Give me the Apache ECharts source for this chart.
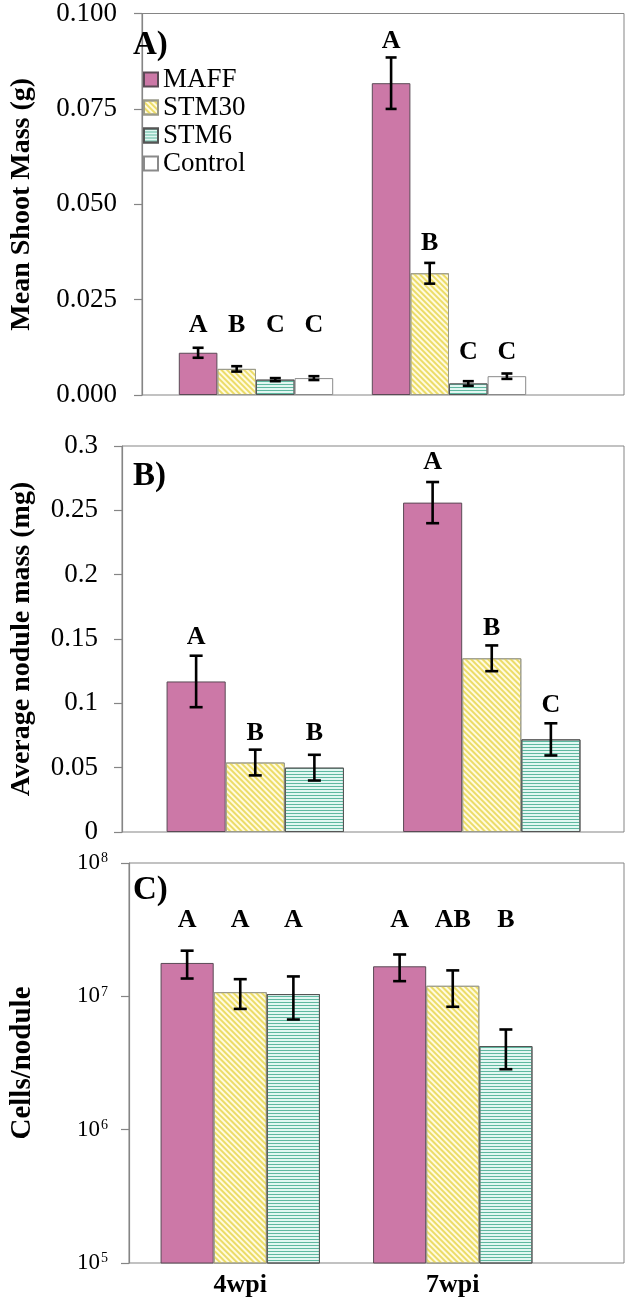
<!DOCTYPE html>
<html lang="en">
<head>
    <meta charset="UTF-8">
    <title>Shoot mass, nodule mass and cells per nodule</title>
    <script src="https://cdn.jsdelivr.net/npm/echarts@6/dist/echarts.min.js"></script>
    <style>
        body { margin: 0; background: #fff; }
    </style>
</head>
<body>
<div id="main" style="width: 626px;height:1299px"></div>
<script>
    var categories = ['4wpi', '7wpi'];
    var seriesNames = ['MAFF', 'STM30', 'STM6', 'Control'];

    // A) mean shoot mass (g), one row per strain, [4wpi, 7wpi]
    var shootMean = [[0.0110, 0.0812], [0.0068, 0.0317], [0.0040, 0.0030], [0.0044, 0.0049]];
    var shootErr = [[0.0013, 0.0067], [0.0007, 0.0027], [0.0004, 0.0006], [0.0005, 0.0007]];
    var shootLetters = [['A', 'A'], ['B', 'B'], ['C', 'C'], ['C', 'C']];
    var shootLetterY = [[0.0182, 0.0920], [0.0182, 0.0396], [0.0182, 0.0112], [0.0182, 0.0112]];

    // B) average nodule mass (mg)
    var noduleMean = [[0.117, 0.256], [0.054, 0.135], [0.050, 0.072]];
    var noduleErr = [[0.020, 0.016], [0.010, 0.010], [0.010, 0.0125]];
    var noduleLetters = [['A', 'A'], ['B', 'B'], ['B', 'C']];
    var noduleLetterY = [[0.151, 0.287], [0.077, 0.158], [0.077, 0.0985]];

    // C) cells per nodule (log scale)
    var cellsMean = [[1.78e7, 1.68e7], [1.075e7, 1.20e7], [1.04e7, 4.24e6]];
    var cellsErr = [[4.2e6, 3.8e6], [2.7e6, 3.65e6], [3.7e6, 1.4e6]];
    var cellsLetters = [['A', 'A'], ['A', 'AB'], ['A', 'B']];
    var cellsLetterY = [[3.7e7, 3.7e7], [3.7e7, 3.7e7], [3.7e7, 3.7e7]];

    var FONT = 'Liberation Serif';
    var fills = ['#cc78a7', '#fffbe0', '#e2f7f2', '#ffffff'];
    var borders = ['#5a4a55', '#9a9a8a', '#555555', '#8a8a8a'];
    var decals = [
        null,
        {symbol: 'rect', dashArrayX: [1, 0], dashArrayY: [1.6, 1.4], rotation: Math.PI / 4, color: '#ecdc68'},
        {symbol: 'rect', dashArrayX: [1, 0], dashArrayY: [1, 1.7], rotation: 0, color: '#5fb8a0'},
        null
    ];

    var chart = echarts.init(document.getElementById('main'));

    var grids = [], xAxes = [], yAxes = [], series = [];

    function frameAxis(yAxis) {
        // grid with the visible frame and y axis
        var gi = grids.length;
        grids.push({left: yAxis.left, right: 2, top: yAxis.top, bottom: yAxis.bottom,
            show: true, borderColor: '#858585', borderWidth: 1});
        xAxes.push({gridIndex: gi, type: 'value', min: 0, max: 1, show: false});
        yAxes.push({
            gridIndex: gi, type: yAxis.type, min: yAxis.min, max: yAxis.max, interval: yAxis.interval,
            logBase: 10,
            name: yAxis.name, nameLocation: 'middle', nameGap: yAxis.nameGap,
            nameTextStyle: {fontFamily: FONT, fontWeight: 'bold', fontSize: yAxis.nameSize, color: '#000'},
            axisLine: {show: true, lineStyle: {color: '#858585', width: 1.2}},
            axisTick: {show: true, inside: false, length: 8, lineStyle: {color: '#858585', width: 1.2}},
            axisLabel: {fontFamily: FONT, fontSize: 27, color: '#000', margin: yAxis.labelMargin,
                formatter: yAxis.formatter, rich: yAxis.rich},
            splitLine: {show: false}
        });
    }

    function barPanel(p) {
        var gi = grids.length;
        grids.push({left: p.left, width: p.width, top: p.top, bottom: p.bottom});
        xAxes.push({gridIndex: gi, type: 'category', data: categories,
            show: p.showCats,
            axisLine: {show: false}, axisTick: {show: false},
            axisLabel: {fontFamily: FONT, fontWeight: 'bold', fontSize: 26, color: '#000', margin: 9}});
        yAxes.push({gridIndex: gi, type: p.type, min: p.min, max: p.max, logBase: 10, show: false});
        var ax = xAxes.length - 1;
        var n = p.mean.length;
        var errData = [], letterData = [], letterText = [];
        for (var i = 0; i < n; i++) {
            series.push({
                name: seriesNames[i], type: 'bar', xAxisIndex: ax, yAxisIndex: ax,
                barGap: '0%', barCategoryGap: p.gap * 100 + '%', clip: true,
                itemStyle: {color: fills[i], borderColor: borders[i], borderWidth: 1, decal: decals[i]},
                data: p.mean[i]
            });
            for (var j = 0; j < categories.length; j++) {
                errData.push([j, i, p.mean[i][j] - p.err[i][j], p.mean[i][j] + p.err[i][j]]);
                letterData.push([j, i, p.letterY[i][j]]);
                letterText.push(p.letters[i][j]);
            }
        }
        function offsetX(api, j, i, v) {
            var a = api.coord([0, v])[0], b = api.coord([1, v])[0];
            var w = (b - a) * (1 - p.gap) / n;
            return api.coord([j, v])[0] + (i - (n - 1) / 2) * w;
        }
        series.push({
            type: 'custom', xAxisIndex: ax, yAxisIndex: ax, z: 5,
            encode: {x: 0, y: [2, 3]},
            renderItem: function (params, api) {
                var j = api.value(0), i = api.value(1);
                var lo = api.value(2), hi = api.value(3);
                var x = offsetX(api, j, i, hi);
                var y1 = api.coord([j, lo])[1], y2 = api.coord([j, hi])[1];
                var st = {stroke: '#000', lineWidth: 2.6};
                var c = p.cap;
                return {type: 'group', children: [
                    {type: 'line', shape: {x1: x, y1: y1, x2: x, y2: y2}, style: st},
                    {type: 'line', shape: {x1: x - c, y1: y1, x2: x + c, y2: y1}, style: st},
                    {type: 'line', shape: {x1: x - c, y1: y2, x2: x + c, y2: y2}, style: st}
                ]};
            },
            data: errData
        });
        series.push({
            type: 'custom', xAxisIndex: ax, yAxisIndex: ax, z: 6,
            encode: {x: 0, y: 2},
            renderItem: function (params, api) {
                var j = api.value(0), i = api.value(1), v = api.value(2);
                var x = offsetX(api, j, i, v);
                var y = api.coord([j, v])[1];
                return {type: 'text', x: x, y: y, style: {
                    text: letterText[params.dataIndex], fill: '#000',
                    font: 'bold 26px "' + FONT + '"', textAlign: 'center', textVerticalAlign: 'middle'}};
            },
            data: letterData
        });
    }

    // Panel A
    frameAxis({left: 121, top: 11, bottom: 904, type: 'value', min: 0, max: 0.1, interval: 0.025,
        name: 'Mean Shoot Mass (g)', nameGap: 106, nameSize: 28, labelMargin: 25,
        formatter: function (v) { return v.toFixed(3); }});
    barPanel({left: 159.5, width: 386, top: 11, bottom: 904, type: 'value', min: 0, max: 0.1,
        mean: shootMean, err: shootErr, letters: shootLetters, letterY: shootLetterY,
        gap: 0.2, cap: 5.5, showCats: false});

    // Panel B
    frameAxis({left: 122, top: 446, bottom: 467, type: 'value', min: 0, max: 0.3, interval: 0.05,
        name: 'Average nodule mass (mg)', nameGap: 86, nameSize: 28, labelMargin: 24});
    barPanel({left: 137, width: 473, top: 446, bottom: 467, type: 'value', min: 0, max: 0.3,
        mean: noduleMean, err: noduleErr, letters: noduleLetters, letterY: noduleLetterY,
        gap: 0.25, cap: 6.5, showCats: false});

    // Panel C
    frameAxis({left: 119, top: 863, bottom: 36, type: 'log', min: 1e5, max: 1e8,
        name: 'Cells/nodule', nameGap: 92, nameSize: 29, labelMargin: 21,
        formatter: function (v) {
            return '{b|10}{s|' + Math.round(Math.log10(v)) + '}';
        },
        rich: {
            b: {fontFamily: FONT, fontSize: 23, color: '#000'},
            s: {fontFamily: FONT, fontSize: 14, color: '#000', padding: [0, 0, 9, 1]}
        }});
    barPanel({left: 134, width: 425, top: 863, bottom: 36, type: 'log', min: 1e5, max: 1e8,
        mean: cellsMean, err: cellsErr, letters: cellsLetters, letterY: cellsLetterY,
        gap: 0.25, cap: 6.5, showCats: true});

    var option = {
        backgroundColor: '#ffffff',
        animation: false,
        title: [
            {text: 'A)', left: 128, top: 24, textStyle: {fontFamily: FONT, fontWeight: 'bold', fontSize: 33, color: '#000'}},
            {text: 'B)', left: 128, top: 455, textStyle: {fontFamily: FONT, fontWeight: 'bold', fontSize: 33, color: '#000'}},
            {text: 'C)', left: 128, top: 869, textStyle: {fontFamily: FONT, fontWeight: 'bold', fontSize: 33, color: '#000'}}
        ],
        legend: {
            orient: 'vertical', left: 138, top: 61,
            icon: 'rect', itemWidth: 14, itemHeight: 14, itemGap: 1,
            textStyle: {fontFamily: FONT, fontSize: 27, color: '#000', lineHeight: 26},
            data: seriesNames
        },
        grid: grids,
        xAxis: xAxes,
        yAxis: yAxes,
        series: series
    };

    option && chart.setOption(option);
</script>
</body>
</html>
